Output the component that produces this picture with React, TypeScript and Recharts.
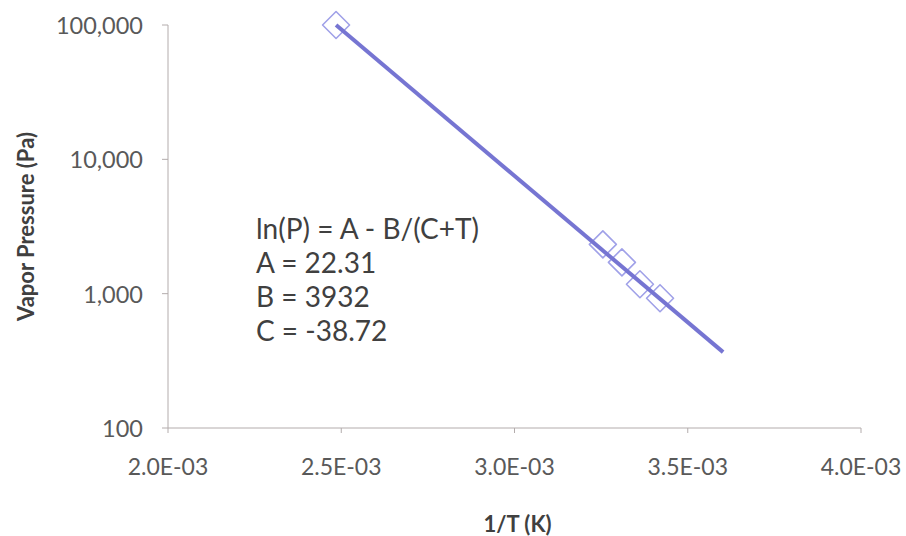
import { Label, Scatter, ScatterChart, XAxis, YAxis } from 'recharts'

// 1/T (1/K) and vapor pressure (Pa)
const inverseTemps = [2.485e-3, 3.255e-3, 3.31e-3, 3.362e-3, 3.42e-3]
const pressures = [100000, 2330, 1710, 1175, 925]

// fitted curve, end points
const fitInverseTemps = [2.485e-3, 3.602e-3]
const fitPressures = [100000, 367]

const xTicks = [0.002, 0.0025, 0.003, 0.0035, 0.004]
const yTicks = [100, 1000, 10000, 100000]

const equationLines = ['ln(P) = A - B/(C+T)', 'A = 22.31', 'B = 3932', 'C = -38.72']

const FONT = 'Lato, "Open Sans", sans-serif'
const AXIS_COLOR = '#b3acac'
const TICK_COLOR = '#595959'
const TITLE_COLOR = '#404040'

const measured = inverseTemps.map((x, i) => ({ x, y: pressures[i] }))
const fitted = fitInverseTemps.map((x, i) => ({ x, y: fitPressures[i] }))

function formatExp(v: number) {
  return (v * 1000).toFixed(1) + 'E-03'
}

function Diamond(props: any) {
  const { cx, cy } = props
  const r = 13.5
  return (
    <polygon
      points={`${cx},${cy - r} ${cx + r},${cy} ${cx},${cy + r} ${cx - r},${cy}`}
      fill="none"
      stroke="#a0a1e8"
      strokeWidth={1.6}
      strokeLinejoin="round"
    />
  )
}

function XTick(props: any) {
  const { x, y, payload } = props
  return (
    <text x={x} y={y} textAnchor="middle" dominantBaseline="central" fontFamily={FONT} fontSize={23} fill={TICK_COLOR}>
      {formatExp(payload.value)}
    </text>
  )
}

function YTick(props: any) {
  const { x, y, payload } = props
  return (
    <text x={x} y={y} textAnchor="end" dominantBaseline="central" fontFamily={FONT} fontSize={23.5} fill={TICK_COLOR}>
      {Number(payload.value).toLocaleString('en-US')}
    </text>
  )
}

export default function App() {
  return (
    <div style={{ paddingLeft: 8, paddingTop: 8, width: 898, height: 528 }}>
      <style>{'html, body { margin: 0; overflow: hidden; } svg { overflow: visible; }'}</style>
      <div style={{ position: 'relative', width: 898, height: 528 }}>
        <ScatterChart width={898} height={528} margin={{ top: 17, right: 45, bottom: 0, left: 0 }}>
          <XAxis
            type="number"
            dataKey="x"
            domain={[0.002, 0.004]}
            ticks={xTicks}
            height={108}
            tick={<XTick />}
            tickSize={5}
            tickMargin={33}
            stroke={AXIS_COLOR}
          >
            <Label
              content={({ viewBox }: any) => (
                <text
                  x={viewBox.x + viewBox.width / 2 + 3}
                  y={viewBox.y + 95}
                  textAnchor="middle"
                  dominantBaseline="central"
                  fontFamily={FONT}
                  fontSize={22}
                  fontWeight="bold"
                  fill={TITLE_COLOR}
                >
                  1/T (K)
                </text>
              )}
            />
          </XAxis>
          <YAxis
            type="number"
            dataKey="y"
            scale="log"
            domain={[100, 100000]}
            ticks={yTicks}
            width={160}
            tick={<YTick />}
            tickSize={6}
            tickMargin={19}
            stroke={AXIS_COLOR}
          >
            <Label
              content={({ viewBox }: any) => {
                const cx = 17
                const cy = viewBox.y + viewBox.height / 2
                return (
                  <text
                    x={cx}
                    y={cy}
                    transform={`rotate(-90 ${cx} ${cy})`}
                    textAnchor="middle"
                    dominantBaseline="central"
                    fontFamily={FONT}
                    fontSize={22}
                    fontWeight="bold"
                    fill={TITLE_COLOR}
                  >
                    Vapor Pressure (Pa)
                  </text>
                )
              }}
            />
          </YAxis>
          <Scatter data={measured} shape={<Diamond />} isAnimationActive={false} />
          <Scatter
            data={fitted}
            line={{ stroke: '#7675d2', strokeWidth: 4 }}
            lineType="joint"
            shape={() => <g />}
            isAnimationActive={false}
          />
        </ScatterChart>
        <div
          style={{
            position: 'absolute',
            left: 248,
            top: 203,
            fontFamily: FONT,
            fontSize: 28,
            lineHeight: '34px',
            color: TITLE_COLOR,
            whiteSpace: 'nowrap',
          }}
        >
          {equationLines.map((line) => (
            <div key={line}>{line}</div>
          ))}
        </div>
      </div>
    </div>
  )
}
